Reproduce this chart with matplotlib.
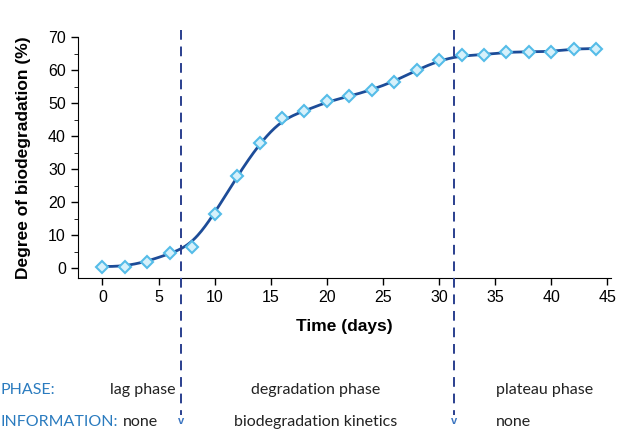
import numpy as np
import matplotlib
matplotlib.use('Agg')
import matplotlib.pyplot as plt
from matplotlib.ticker import MultipleLocator

# measured points (days, % biodegradation)
days = [0, 2, 4, 6, 8, 10, 12, 14, 16, 18, 20, 22, 24, 26, 28, 30, 32, 34, 36, 38, 40, 42, 44]
degradation = [0.5, 0.5, 2, 4.5, 6.5, 16.5, 28, 38, 45.5, 47.5, 50.5, 52, 54, 56.5, 60,
               63, 64.5, 64.5, 65.5, 65.5, 65.5, 66.5, 66.5]

# phase boundaries (days)
phase_bounds = [7, 31.3]
phase_names = ['lag phase', 'degradation phase', 'plateau phase']
phase_info = ['none', 'biodegradation kinetics', 'none']

# smoothed fit curve: gaussian kernel regression over the measured points
xd = np.array(days, dtype=float)
yd = np.array(degradation, dtype=float)
xs = np.linspace(0, 44, 400)
w = np.exp(-0.5 * ((xs[:, None] - xd[None, :]) / 1.4) ** 2)
ys = (w * yd).sum(axis=1) / w.sum(axis=1)

fig = plt.figure(figsize=(6.22, 4.30), dpi=100)
ax = fig.add_axes([0.125, 0.353, 0.857, 0.561])

ax.plot(xs, ys, color='#1d4c98', lw=2, zorder=3)
ax.plot(days, degradation, linestyle='none', marker='D', markersize=6.5,
        markerfacecolor='#d6f1fb', markeredgecolor='#55bce8', markeredgewidth=1.5, zorder=4)

ax.set_xlim(-2.2, 45.3)
ax.set_ylim(-3, 70)
ax.xaxis.set_major_locator(MultipleLocator(5))
ax.yaxis.set_major_locator(MultipleLocator(10))
ax.yaxis.set_minor_locator(MultipleLocator(5))
ax.spines['top'].set_visible(False)
ax.spines['right'].set_visible(False)
ax.tick_params(labelsize=11.5, length=5, width=1)
ax.tick_params(which='minor', length=3)
for t in ax.get_xticklabels() + ax.get_yticklabels():
    t.set_family('Liberation Sans')

ax.set_xlabel('Time (days)', fontsize=12.5, fontweight='bold', family='Liberation Sans', labelpad=10)
ax.set_ylabel('Degree of biodegradation (%)', fontsize=12.5, fontweight='bold',
              family='Liberation Sans', labelpad=12)

# dashed phase dividers running from above the axes down to the footer text
for b in phase_bounds:
    xf = ax.transData.transform((b, 0))[0] / fig.bbox.width
    fig.add_artist(plt.Line2D([xf, xf], [0.93, 0.035], transform=fig.transFigure,
                              color='#2a3f8e', lw=1.4, linestyle=(0, (5, 3.5))))
    fig.text(xf, 0.02, 'v', color='#3a74c0', fontsize=8, ha='center', va='center',
             family='Liberation Sans', fontweight='bold')

blue = '#2a7bbf'
row1, row2 = 0.094, 0.018
fs = 11.5
fig.text(0.0, row1, 'PHASE:', color=blue, fontsize=fs, family='Lato', va='center')
fig.text(0.0, row2, 'INFORMATION:', color=blue, fontsize=fs, family='Lato', va='center')
fig.text(0.198, row2, 'none', color='#222222', fontsize=fs, family='Lato', va='center')
fig.text(0.177, row1, phase_names[0], color='#222222', fontsize=fs, family='Lato', va='center')
fig.text(0.507, row1, phase_names[1], color='#222222', fontsize=fs, family='Lato', va='center', ha='center')
fig.text(0.507, row2, phase_info[1], color='#222222', fontsize=fs, family='Lato', va='center', ha='center')
fig.text(0.797, row1, phase_names[2], color='#222222', fontsize=fs, family='Lato', va='center')
fig.text(0.797, row2, phase_info[2], color='#222222', fontsize=fs, family='Lato', va='center')

fig.savefig('out.png', dpi=100)
